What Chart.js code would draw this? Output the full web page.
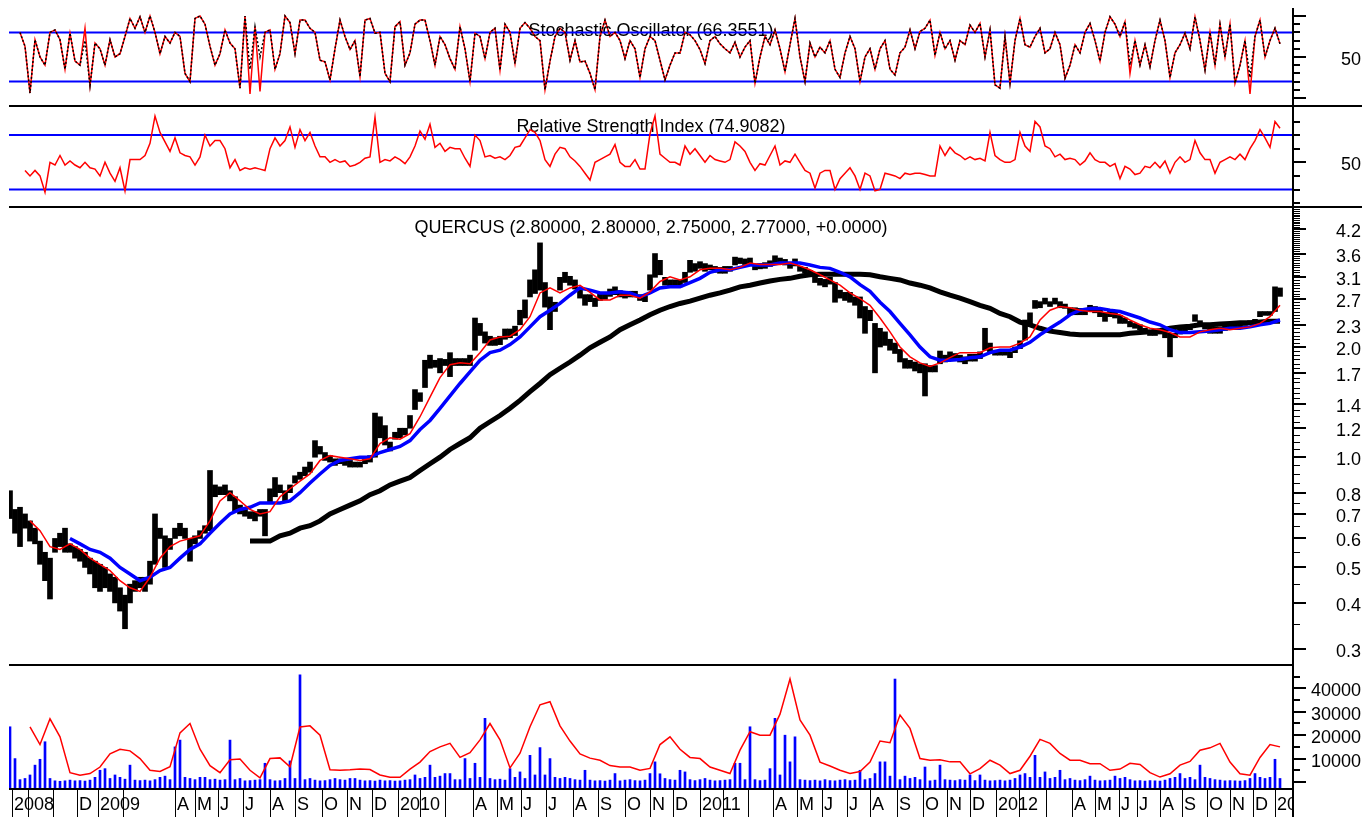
<!DOCTYPE html>
<html><head><meta charset="utf-8">
<script src="https://cdn.jsdelivr.net/npm/chart.js@4.4.1/dist/chart.umd.min.js"></script>
<style>
html,body{margin:0;padding:0;background:#fff;width:1362px;height:817px;overflow:hidden}
#wrap{position:relative;width:1362px;height:817px;background:#fff}
canvas{position:absolute;left:0}
</style></head><body><div id="wrap">
<canvas id="cStoch" width="1362" height="106" style="top:0px"></canvas>
<canvas id="cRsi" width="1362" height="103" style="top:105px"></canvas>
<canvas id="cPrice" width="1362" height="459" style="top:206px"></canvas>
<canvas id="cVol" width="1362" height="153" style="top:664px"></canvas>
</div>
<script>
// ---------- DATA (one sample per period, period index 0..254) ----------
const priceHigh = [
0.81,0.72,0.73,0.70,0.67,0.64,0.59,0.55,0.53,0.60,
0.62,0.64,0.58,0.57,0.56,0.55,0.53,0.52,0.51,0.50,
0.48,0.47,0.44,0.42,0.45,0.46,0.47,0.47,0.52,0.70,
0.64,0.61,0.60,0.64,0.66,0.64,0.60,0.61,0.63,0.65,
0.92,0.84,0.83,0.84,0.81,0.78,0.74,0.72,0.71,0.71,
0.72,0.72,0.82,0.88,0.84,0.81,0.84,0.89,0.91,0.94,
0.97,1.11,1.07,1.03,1.01,0.99,0.99,0.99,0.98,0.97,
0.97,0.99,1.01,1.32,1.29,1.22,1.10,1.17,1.20,1.20,
1.30,1.53,1.50,1.84,1.90,1.84,1.86,1.85,1.93,1.86,
1.86,1.86,1.90,2.40,2.32,2.20,2.14,2.12,2.14,2.24,
2.24,2.28,2.52,2.69,3.05,3.25,3.85,3.00,2.74,2.65,
3.10,3.20,3.12,3.05,2.90,2.78,2.78,2.72,2.82,2.82,
2.88,2.92,2.85,2.83,2.84,2.84,2.78,2.76,3.15,3.60,
3.45,3.10,3.05,3.05,3.05,3.20,3.45,3.38,3.42,3.38,
3.35,3.32,3.30,3.32,3.32,3.52,3.50,3.48,3.50,3.36,
3.38,3.40,3.44,3.55,3.50,3.47,3.39,3.48,3.32,3.30,
3.24,3.12,3.08,3.06,3.10,3.00,2.86,2.82,2.82,2.74,
2.74,2.58,2.52,2.32,2.25,2.20,2.10,2.05,1.97,1.86,
1.84,1.82,1.80,1.80,1.78,1.78,1.95,1.90,1.94,1.92,
1.90,1.88,1.91,1.91,1.94,2.25,2.05,1.96,1.96,1.96,
1.94,2.00,2.08,2.37,2.48,2.68,2.66,2.72,2.66,2.72,
2.66,2.62,2.56,2.56,2.55,2.55,2.60,2.58,2.52,2.48,
2.52,2.50,2.44,2.40,2.35,2.32,2.30,2.25,2.22,2.20,
2.22,2.20,2.18,2.18,2.25,2.28,2.30,2.45,2.36,2.30,
2.27,2.27,2.27,2.28,2.30,2.31,2.33,2.34,2.36,2.38,
2.50,2.50,2.50,2.92,2.90];
const priceLow = [
0.68,0.62,0.57,0.64,0.59,0.58,0.51,0.46,0.41,0.55,
0.57,0.55,0.55,0.53,0.52,0.50,0.48,0.44,0.43,0.44,
0.43,0.40,0.38,0.34,0.40,0.43,0.44,0.43,0.45,0.51,
0.60,0.50,0.56,0.60,0.61,0.60,0.52,0.58,0.60,0.62,
0.63,0.78,0.79,0.79,0.76,0.71,0.70,0.69,0.68,0.67,
0.69,0.61,0.75,0.78,0.80,0.76,0.80,0.85,0.87,0.89,
0.91,1.00,1.02,0.98,0.97,0.95,0.96,0.95,0.94,0.94,
0.94,0.96,0.97,1.00,1.13,1.08,1.04,1.12,1.13,1.15,
1.20,1.35,1.42,1.55,1.75,1.76,1.70,1.78,1.66,1.78,
1.78,1.78,1.78,1.96,2.15,2.05,2.02,2.02,2.03,2.10,
2.12,2.15,2.30,2.40,2.74,2.80,2.86,2.57,2.23,2.50,
2.86,3.00,2.95,2.88,2.72,2.60,2.66,2.58,2.68,2.70,
2.75,2.78,2.74,2.72,2.74,2.74,2.68,2.66,2.86,3.10,
3.15,2.95,2.92,2.96,2.92,3.00,3.20,3.22,3.28,3.22,
3.25,3.20,3.18,3.18,3.22,3.35,3.38,3.36,3.36,3.25,
3.27,3.28,3.32,3.40,3.38,3.35,3.28,3.33,3.22,3.18,
3.12,3.00,2.95,2.92,2.97,2.65,2.72,2.68,2.65,2.60,
2.40,2.18,2.36,1.70,2.00,2.02,1.96,1.92,1.82,1.75,
1.75,1.72,1.70,1.47,1.71,1.71,1.80,1.82,1.85,1.84,
1.82,1.80,1.83,1.83,1.86,1.96,1.93,1.90,1.90,1.90,
1.87,1.93,1.98,2.09,2.30,2.55,2.56,2.62,2.58,2.62,
2.56,2.55,2.45,2.45,2.45,2.45,2.50,2.48,2.42,2.35,
2.42,2.40,2.32,2.32,2.27,2.25,2.23,2.18,2.15,2.15,
2.17,2.12,1.88,2.12,2.17,2.20,2.23,2.35,2.28,2.24,
2.18,2.18,2.18,2.22,2.24,2.25,2.27,2.29,2.30,2.33,
2.42,2.44,2.44,2.50,2.75];
// moving averages, one value every 2 periods
const maFastStart = 4;
const maFast = [
0.67,0.63,0.57,0.56,0.58,0.56,0.53,0.51,0.49,0.46,
0.44,0.43,0.47,0.53,0.57,0.59,0.60,0.61,0.67,0.76,
0.80,0.76,0.72,0.70,0.71,0.78,0.82,0.86,0.90,0.98,
1.01,1.00,0.99,0.98,0.99,1.09,1.13,1.12,1.16,1.29,
1.46,1.65,1.79,1.81,1.80,1.93,2.09,2.13,2.14,2.23,
2.42,2.81,2.90,2.81,2.90,2.95,2.82,2.69,2.69,2.77,
2.77,2.72,2.83,3.02,3.11,3.05,3.11,3.25,3.28,3.28,
3.25,3.30,3.39,3.36,3.36,3.36,3.39,3.33,3.25,3.15,
3.05,2.95,2.81,2.71,2.60,2.40,2.20,2.00,1.88,1.81,
1.77,1.81,1.87,1.93,1.93,1.93,1.99,2.00,2.00,2.05,
2.13,2.37,2.52,2.58,2.56,2.52,2.50,2.50,2.47,2.45,
2.37,2.30,2.25,2.23,2.19,2.13,2.13,2.20,2.23,2.25,
2.23,2.25,2.27,2.32,2.42,2.60];
const maMidStart = 12;
const maMid = [
0.60,0.58,0.56,0.55,0.53,0.50,0.48,0.46,0.47,0.49,
0.50,0.53,0.56,0.58,0.62,0.66,0.70,0.72,0.73,0.75,
0.75,0.75,0.76,0.80,0.85,0.90,0.95,0.98,0.99,1.00,
1.00,1.03,1.05,1.07,1.11,1.19,1.26,1.36,1.47,1.59,
1.71,1.84,1.93,1.96,2.03,2.13,2.27,2.42,2.52,2.63,
2.77,2.90,2.86,2.81,2.81,2.83,2.81,2.74,2.81,2.90,
2.92,2.92,3.00,3.08,3.20,3.25,3.25,3.30,3.35,3.35,
3.35,3.39,3.39,3.39,3.35,3.30,3.28,3.20,3.11,2.96,
2.84,2.65,2.50,2.32,2.16,2.00,1.88,1.84,1.84,1.85,
1.87,1.88,1.93,1.96,1.96,2.00,2.06,2.16,2.25,2.34,
2.45,2.52,2.55,2.55,2.52,2.50,2.45,2.40,2.34,2.30,
2.23,2.19,2.19,2.20,2.21,2.23,2.25,2.25,2.27,2.30,
2.32,2.37];
const maSlowStart = 48;
const maSlow = [
0.59,0.59,0.59,0.61,0.62,0.64,0.65,0.67,0.70,0.72,
0.74,0.76,0.79,0.81,0.84,0.86,0.88,0.92,0.96,1.00,
1.05,1.09,1.13,1.20,1.25,1.30,1.36,1.43,1.51,1.59,
1.68,1.75,1.82,1.90,1.99,2.06,2.13,2.23,2.30,2.37,
2.45,2.52,2.58,2.63,2.67,2.72,2.77,2.81,2.86,2.92,
2.95,2.99,3.03,3.06,3.08,3.12,3.15,3.16,3.16,3.16,
3.16,3.16,3.15,3.11,3.08,3.05,2.99,2.95,2.90,2.83,
2.77,2.72,2.66,2.60,2.55,2.47,2.42,2.34,2.30,2.25,
2.21,2.19,2.17,2.16,2.16,2.16,2.16,2.16,2.18,2.19,
2.20,2.22,2.25,2.27,2.28,2.30,2.30,2.31,2.32,2.33,
2.33,2.34,2.35,2.35];
// volume in thousands
const volumeK = [
23.6,10.0,1.0,1.5,3.0,7.2,9.7,17.2,1.5,0.5,
0.3,0.5,0.8,0.5,0.6,0.4,0.8,2.0,5.0,5.7,
1.5,3.0,2.0,1.2,7.2,0.8,0.6,0.8,0.5,1.0,
2.0,2.5,1.0,15.0,17.9,2.0,1.5,1.0,2.0,2.0,
1.0,1.2,0.8,1.0,17.9,1.0,1.5,0.5,0.6,0.8,
1.0,8.0,1.0,0.5,0.6,1.5,9.0,1.5,45.8,1.0,
1.5,0.8,0.5,0.6,1.0,1.5,1.0,0.8,1.5,1.5,
0.8,0.5,0.6,0.4,0.8,0.5,0.6,0.4,0.5,0.8,
1.0,3.0,1.5,2.0,7.2,2.0,2.5,3.6,3.6,1.0,
1.0,10.0,1.5,8.0,2.0,27.2,1.5,1.0,1.2,0.8,
5.7,2.0,4.3,1.5,11.4,3.0,14.7,3.0,10.0,2.0,
1.5,2.0,1.5,1.0,0.8,5.0,0.8,0.5,0.6,0.4,
0.8,3.6,0.5,0.8,1.0,0.6,0.5,0.8,3.6,8.6,
3.5,1.5,1.0,0.8,5.0,4.3,1.0,0.6,1.0,1.5,
0.8,0.5,0.6,0.8,1.0,8.0,8.0,1.0,23.6,1.0,
0.6,0.8,5.7,27.2,3.0,20.0,8.6,19.3,1.0,0.8,
0.6,0.8,0.5,1.0,0.6,0.5,0.8,1.0,0.6,0.8,
5.0,1.0,1.5,3.6,8.6,8.6,2.5,44.0,1.0,2.5,
1.5,2.0,1.0,6.4,0.5,0.8,7.2,1.0,0.8,0.6,
1.0,0.8,3.0,0.6,3.0,0.8,0.5,0.6,0.8,0.5,
0.8,1.5,3.0,3.6,2.0,11.4,2.0,4.3,1.5,2.0,
5.0,1.0,1.5,0.8,0.6,1.0,2.5,0.8,0.5,0.6,
0.8,2.5,1.5,2.0,1.0,0.5,0.6,0.4,0.6,0.5,
0.4,0.8,1.5,2.0,3.6,1.5,2.0,1.0,7.2,2.0,
1.5,1.0,0.8,0.5,0.6,0.5,0.4,0.6,1.5,3.6,
2.0,1.5,2.0,9.7,1.5];
const volMaStart = 4;
const volMaK = [
23.6,16.0,27.0,19.3,4.0,2.9,3.6,6.4,12.0,14.0,
13.3,10.0,5.0,4.5,6.5,21.0,25.0,14.0,7.0,4.0,
9.5,9.8,5.0,1.8,10.0,10.3,6.5,23.5,24.0,20.0,
5.2,5.0,5.2,5.6,5.3,3.0,2.0,2.0,5.5,8.5,
13.0,15.0,16.5,10.5,12.5,18.0,25.0,18.0,6.0,12.3,
23.6,33.0,34.3,24.0,17.5,12.0,10.2,9.3,7.0,6.4,
6.4,5.0,5.8,16.0,19.3,14.0,10.5,10.0,6.4,5.0,
3.6,13.6,21.5,20.0,20.0,29.0,44.0,26.5,20.0,8.5,
6.8,5.0,3.6,4.5,8.5,17.5,16.8,28.6,22.9,10.0,
9.3,9.5,8.6,8.6,3.5,5.7,9.3,7.2,3.6,5.0,
11.0,18.2,16.5,12.2,9.3,9.3,7.8,7.8,5.0,5.5,
8.0,7.5,4.0,2.1,3.5,7.2,8.8,13.6,14.6,16.5,
8.5,3.5,2.9,10.5,16.0,15.0];
const stochK = [
null,null,80,63,6,71,50,40,80,83,
71,35,79,45,40,85,15,67,60,40,
71,50,54,75,97,85,99,80,100,80,
54,75,67,80,75,30,20,97,100,90,
63,40,54,83,67,60,12,100,5,87,
8,80,83,35,54,100,92,54,95,95,
85,80,46,44,22,60,95,75,59,70,
26,95,97,79,80,30,20,87,93,40,
55,90,95,95,70,40,75,65,48,35,
87,60,20,79,75,48,80,85,34,90,
80,42,85,92,85,75,70,10,45,75,
85,80,46,70,44,45,30,10,75,95,
75,80,70,48,70,60,25,60,75,70,
46,22,40,55,55,80,77,70,59,42,
70,75,66,60,55,68,50,62,70,18,
50,75,65,83,60,32,65,97,50,20,
67,50,62,55,70,35,25,55,75,60,
20,50,60,35,60,70,35,28,55,62,
83,60,81,85,95,52,80,60,70,46,
70,65,89,80,91,50,83,16,12,75,
18,70,97,65,62,75,85,55,60,80,
65,24,40,65,55,80,91,70,45,80,
99,90,75,93,30,70,40,65,38,70,
95,70,25,55,65,79,60,99,70,34,
80,40,90,50,90,18,40,70,5,75,
95,50,70,85,66];
const stochD = [
null,null,80,63,6,71,50,40,80,83,
71,35,79,45,40,70,15,67,60,40,
71,50,54,75,97,85,99,80,100,80,
54,75,67,80,75,30,20,97,100,90,
63,40,54,83,67,60,12,100,35,87,
50,80,83,35,54,100,92,54,95,95,
85,80,46,44,22,60,95,75,59,70,
26,95,97,79,80,30,20,87,93,40,
55,90,95,95,70,40,75,65,48,35,
87,60,20,79,75,48,80,85,34,90,
80,42,85,92,85,75,70,10,45,75,
85,80,46,70,44,45,30,10,75,95,
75,80,70,48,70,60,25,60,75,70,
46,22,40,55,55,80,77,70,59,42,
70,75,66,60,55,68,50,62,70,18,
50,75,65,83,60,32,65,97,50,20,
67,50,62,55,70,35,25,55,75,60,
20,50,60,35,60,70,35,28,55,62,
83,60,81,85,95,52,80,60,70,46,
70,65,89,80,91,50,83,16,12,75,
18,70,97,65,62,75,85,55,60,80,
65,24,40,65,55,80,91,70,45,80,
99,90,75,93,40,70,40,65,38,70,
95,70,25,55,65,79,60,99,70,34,
80,40,90,50,90,18,40,70,25,75,
95,50,70,85,66];
const rsi = [
null,null,null,44,40,44,40,28,50,48,
55,48,51,48,46,50,46,45,40,50,
42,36,46,29,52,52,52,55,64,84,
72,65,58,68,57,55,54,48,54,70,
62,66,66,60,46,52,44,46,45,46,
45,44,60,68,62,66,76,61,74,66,
72,62,54,54,50,52,50,51,47,48,
50,53,54,83,50,52,51,54,52,49,
54,62,73,67,78,61,64,58,61,60,
60,53,47,70,66,54,55,53,54,52,
55,61,62,68,74,72,66,52,47,56,
61,60,54,51,47,42,37,50,52,54,
56,63,50,47,47,52,45,45,71,84,
56,53,50,50,48,62,56,60,55,50,
55,52,51,50,52,65,62,58,50,44,
49,48,55,62,48,51,50,56,50,44,
42,31,42,44,44,30,38,42,46,40,
30,42,40,29,30,42,41,40,38,42,
41,42,42,41,40,40,62,55,61,57,
55,52,54,52,53,51,72,55,52,50,
50,52,72,62,58,80,76,62,60,54,
56,52,53,52,48,51,57,52,50,50,
47,49,38,47,45,41,42,47,46,50,
46,51,42,50,54,50,52,66,57,52,
52,42,50,52,54,52,56,52,60,66,
74,68,61,80,75];
// time axis (month starts in period units) and labels
const monthTickPos = [0.34,3.66,8.66,13.34,17.66,22.66,33,37,41.6,46.6,52,57,62.4,67.4,72.4,77.6,82,87,
92.54,97.46,102.2,107.2,112.54,117.66,123,128,132.66,138,142.66,147.66,152.66,157.34,162.34,167.34,172,
177.34,182.66,187.34,192,197.2,201.86,207.14,212.34,217,221.86,225.34,230,234.34,239.34,244,248.66,253];
const monthTickLabels = ["2008","","","D","2009","","A","M","J","J","A","S","O","N","D","2010","","",
"A","M","J","J","A","S","O","N","D","2011","","","A","M","J","J","A","S","O","N","D","2012","","",
"A","M","J","J","A","S","O","N","D","2013"];
const priceTickLabels = ["4.2","3.6","3.1","2.7","2.3","2.0","1.7","1.4","1.2","1.0","0.8","0.7","0.6","0.5","0.4","0.3"];
const volTickLabels = [10000,20000,30000,40000];
const stochTitle = "Stochastic Oscillator (66.3551)";
const rsiTitle = "Relative Strength Index (74.9082)";
const priceTitle = "QUERCUS (2.80000, 2.80000, 2.75000, 2.77000, +0.0000)";
const stochBands = [20,80];
const rsiBands = [30,70];

// ---------- RENDER ----------
const FONT = '18px "Liberation Sans", Arial, Helvetica, sans-serif';
const X_MIN = -0.2, X_MAX = 256.6;
const pts = (arr, start, step) => arr.map((v,i)=>({x:start+i*step, y:v}));

function opts(yScale, padTop, padBottom){
  return {
    responsive:false, animation:false, devicePixelRatio:1, events:[],
    layout:{padding:{left:9,right:69,top:padTop,bottom:padBottom}},
    plugins:{legend:{display:false},tooltip:{enabled:false},title:{display:false}},
    scales:{
      x:{type:'linear',min:X_MIN,max:X_MAX,display:false,offset:false,grid:{offset:false}},
      y:Object.assign({display:false}, yScale)
    }
  };
}
function hline(ctx,a,y,color,w){ctx.save();ctx.strokeStyle=color;ctx.lineWidth=w;ctx.beginPath();ctx.moveTo(a.left,y);ctx.lineTo(a.right,y);ctx.stroke();ctx.restore();}
function title(c,text,y){const ctx=c.ctx,a=c.chartArea;ctx.save();ctx.font=FONT;ctx.fillStyle='#000';ctx.textAlign='center';ctx.textBaseline='middle';ctx.fillText(text,(a.left+a.right)/2,y);ctx.restore();}
function axisLine(c,y0,y1){const ctx=c.ctx,a=c.chartArea;ctx.save();ctx.fillStyle='#000';ctx.fillRect(a.right-1,y0,2,y1-y0);ctx.restore();}
function sepTop(c,full){const ctx=c.ctx,a=c.chartArea;ctx.save();ctx.fillStyle='#000';ctx.fillRect(a.left,0,(full?c.width:a.right)-a.left,2);ctx.restore();}
function ticks(c,list){ // list of {v,len,h,label}
  const ctx=c.ctx,a=c.chartArea,s=c.scales.y;ctx.save();ctx.fillStyle='#000';
  list.forEach(t=>{const py=Math.round(s.getPixelForValue(t.v));ctx.fillRect(a.right,py-(t.h>1?1:0),t.len,t.h);
    if(t.label){ctx.font=FONT;ctx.textAlign='right';ctx.textBaseline='middle';ctx.fillText(t.label,c.width-1,py+3);}});
  ctx.restore();
}

// Stochastic panel
new Chart(document.getElementById('cStoch'),{
  type:'line',
  data:{datasets:[
    {data:pts(stochD,0,1),borderColor:'#000',borderWidth:1.5,borderDash:[2,2],pointRadius:0,tension:0,order:1},
    {data:pts(stochK,0,1),borderColor:'#ff0000',borderWidth:1.5,pointRadius:0,tension:0,order:2}
  ]},
  options:opts({type:'linear',min:-9.8,max:119.5},0,0),
  plugins:[{id:'stochDeco',
    beforeDatasetsDraw(c){title(c,stochTitle,31);stochBands.forEach(v=>hline(c.ctx,c.chartArea,c.scales.y.getPixelForValue(v),'#0000ff',2));},
    afterDraw(c){axisLine(c,8,c.height);const l=[];for(let v=0;v<=100;v+=10)l.push({v,len:(v%50===0)?13:7,h:2,label:v===50?'50':''});ticks(c,l);}
  }]
});

// RSI panel
new Chart(document.getElementById('cRsi'),{
  type:'line',
  data:{datasets:[{data:pts(rsi,0,1),borderColor:'#ff0000',borderWidth:1.5,pointRadius:0,tension:0}]},
  options:opts({type:'linear',min:16.4,max:91.4},1,0),
  plugins:[{id:'rsiDeco',
    beforeDatasetsDraw(c){title(c,rsiTitle,22);rsiBands.forEach(v=>hline(c.ctx,c.chartArea,c.scales.y.getPixelForValue(v),'#0000ff',2));},
    afterDraw(c){sepTop(c,true);axisLine(c,0,c.height);const l=[];for(let v=20;v<=80;v+=10)l.push({v,len:v===50?13:7,h:2,label:v===50?'50':''});ticks(c,l);}
  }]
});

// Price panel
new Chart(document.getElementById('cPrice'),{
  type:'bar',
  data:{datasets:[
    {type:'line',data:pts(maFast,maFastStart,2),borderColor:'#ff0000',borderWidth:1.5,pointRadius:0,tension:0,order:1},
    {type:'line',data:pts(maMid,maMidStart,2),borderColor:'#0000ff',borderWidth:3.5,pointRadius:0,tension:0,order:2},
    {type:'line',data:pts(maSlow,maSlowStart,2),borderColor:'#000',borderWidth:5,pointRadius:0,tension:0,order:3},
    {type:'bar',data:priceHigh.map((h,i)=>({x:i,y:[priceLow[i],h]})),backgroundColor:'#000',borderWidth:0,barThickness:5,order:4}
  ]},
  options:opts({type:'logarithmic',min:0.2707,max:4.794},2,0),
  plugins:[{id:'priceDeco',
    beforeDatasetsDraw(c){title(c,priceTitle,22);},
    afterDraw(c){sepTop(c,true);axisLine(c,0,c.height);
      const l=[];for(let k=6;k<=95;k++)l.push({v:k/20,len:7,h:1});
      priceTickLabels.forEach(s=>l.push({v:parseFloat(s),len:13,h:2,label:s}));ticks(c,l);}
  }]
});

// Volume panel + time axis
new Chart(document.getElementById('cVol'),{
  type:'bar',
  data:{datasets:[
    {type:'line',data:pts(volMaK.map(v=>v*1000),volMaStart,2),borderColor:'#ff0000',borderWidth:1.5,pointRadius:0,tension:0,order:1},
    {type:'bar',data:pts(volumeK.map(v=>v*1000),0,1),backgroundColor:'#0000ff',borderWidth:0,barThickness:2,base:-3000,order:2}
  ]},
  options:opts({type:'linear',min:-3000,max:50000},1,28),
  plugins:[{id:'volDeco',
    afterDraw(c){
      const ctx=c.ctx,a=c.chartArea,xs=c.scales.x;
      sepTop(c,false);axisLine(c,0,c.height);
      ctx.save();ctx.fillStyle='#000';ctx.fillRect(a.left,a.bottom-1,a.right-a.left,2);ctx.restore();
      const l=[];for(let v=0;v<=45000;v+=5000)l.push({v,len:(v%10000===0)?13:7,h:2,label:volTickLabels.includes(v)?String(v):''});ticks(c,l);
      ctx.save();ctx.beginPath();ctx.rect(a.left,a.bottom,a.right-a.left-1,c.height-a.bottom);ctx.clip();
      ctx.fillStyle='#000';ctx.font=FONT;ctx.textAlign='left';ctx.textBaseline='middle';
      monthTickPos.forEach((p,i)=>{const px=Math.round(xs.getPixelForValue(p));ctx.fillRect(px,a.bottom,1,c.height-a.bottom);
        if(monthTickLabels[i])ctx.fillText(monthTickLabels[i],px+2,a.bottom+16);});
      ctx.restore();
    }
  }]
});
</script>
</body></html>
